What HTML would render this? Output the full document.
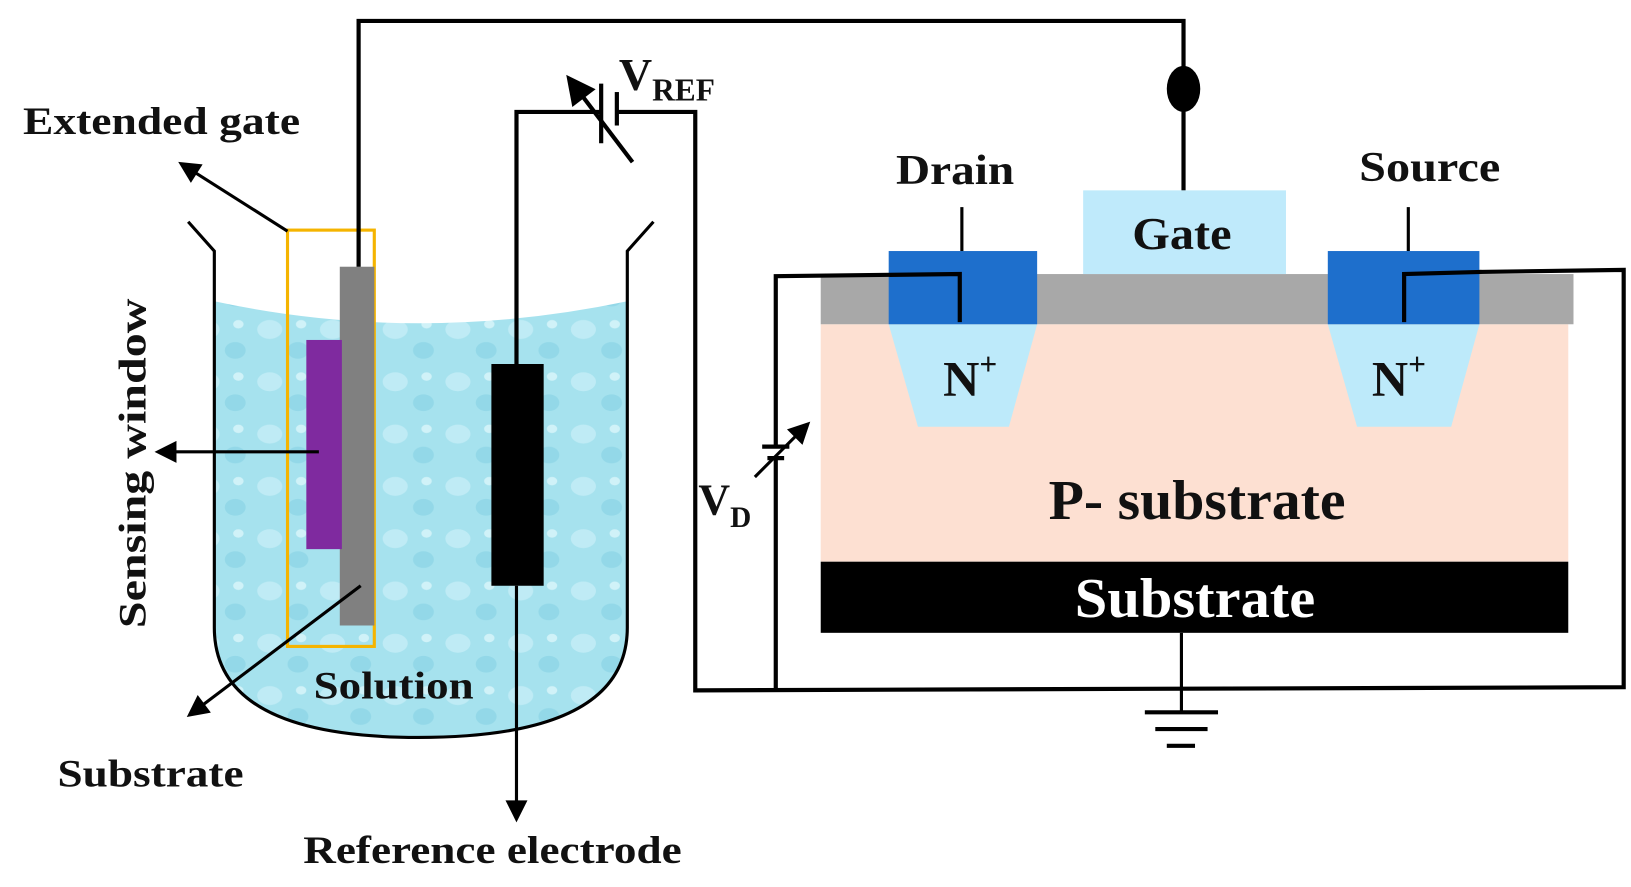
<!DOCTYPE html>
<html><head><style>html,body{margin:0;padding:0;background:#fff}svg{display:block}</style></head>
<body>
<svg width="1631" height="887" viewBox="0 0 1560 848" preserveAspectRatio="none" xmlns="http://www.w3.org/2000/svg" font-family="Liberation Serif, serif" font-weight="bold">
<defs>
<marker id="ah" viewBox="0 0 10 10" refX="8" refY="5" markerWidth="8" markerHeight="7" orient="auto"><path d="M0,0L10,5L0,10z" fill="#000"/></marker>
<pattern id="bub" width="60" height="50" patternUnits="userSpaceOnUse">
<rect width="60" height="50" fill="#a6e2ee"/>
<ellipse cx="18" cy="15" rx="12" ry="9" fill="#c6eef6" opacity=".8"/>
<ellipse cx="45" cy="35" rx="10" ry="8" fill="#8fd6e6" opacity=".8"/>
<ellipse cx="48" cy="10" rx="5" ry="4" fill="#d0f2f8"/>
</pattern>
</defs>
<!-- beaker -->
<path d="M205,288 Q400,330 600,288 L600,600 Q600,705 400,705 Q205,705 205,600 Z" fill="url(#bub)"/>
<path d="M180,212 L205,240 L205,600 Q205,705 400,705 Q600,705 600,600 L600,240 L625,212" fill="none" stroke="#000" stroke-width="3"/>
<rect x="275" y="220" width="83" height="398" fill="none" stroke="#f5b400" stroke-width="3"/>
<rect x="325" y="255" width="33" height="343" fill="#808080"/>
<rect x="293" y="325" width="34" height="200" fill="#7f2a9f"/>
<!-- wires -->
<polyline points="343,255 343,20 1132,20 1132,182" fill="none" stroke="#000" stroke-width="4"/>
<ellipse cx="1132" cy="85" rx="16" ry="22" fill="#000"/>
<polyline points="494,348 494,107 575,107" fill="none" stroke="#000" stroke-width="4"/>
<polyline points="590,107 665,107 665,660 1553,657 1553,258 1415,260" fill="none" stroke="#000" stroke-width="4"/>
<line x1="575" y1="80" x2="575" y2="137" stroke="#000" stroke-width="4"/>
<line x1="590" y1="88" x2="590" y2="120" stroke="#000" stroke-width="4"/>
<line x1="605" y1="155" x2="545" y2="76" stroke="#000" stroke-width="4" marker-end="url(#ah)"/>
<rect x="470" y="348" width="50" height="212" fill="#000"/>
<line x1="494" y1="560" x2="494" y2="782" stroke="#000" stroke-width="3" marker-end="url(#ah)"/>
<line x1="305" y1="432" x2="152" y2="432" stroke="#000" stroke-width="3" marker-end="url(#ah)"/>
<line x1="275" y1="221" x2="174" y2="157" stroke="#000" stroke-width="3" marker-end="url(#ah)"/>
<line x1="345" y1="560" x2="182" y2="683" stroke="#000" stroke-width="3" marker-end="url(#ah)"/>
<!-- MOSFET -->
<rect x="785" y="310" width="715" height="227" fill="#fde0d2"/>
<rect x="785" y="262" width="720" height="48" fill="#a8a8a8"/>
<rect x="785" y="537" width="715" height="68" fill="#000"/>
<polygon points="850,310 992,310 965,408 878,408" fill="#bdeafa"/>
<polygon points="1270,310 1415,310 1388,408 1298,408" fill="#bdeafa"/>
<rect x="850" y="240" width="142" height="70" fill="#1e6fcc"/>
<rect x="1270" y="240" width="145" height="70" fill="#1e6fcc"/>
<rect x="1036" y="182" width="194" height="80" fill="#bfeafb"/>
<polyline points="918,308 918,262 742,264 742,660" fill="none" stroke="#000" stroke-width="4"/>
<polyline points="1343,308 1343,262 1417,260" fill="none" stroke="#000" stroke-width="4"/>
<line x1="920" y1="198" x2="920" y2="240" stroke="#000" stroke-width="3"/>
<line x1="1347" y1="198" x2="1347" y2="240" stroke="#000" stroke-width="3"/>
<rect x="736" y="426" width="12" height="13" fill="#fff"/>
<line x1="729" y1="427" x2="755" y2="427" stroke="#000" stroke-width="4"/>
<line x1="734" y1="438" x2="750" y2="438" stroke="#000" stroke-width="4"/>
<line x1="722" y1="456" x2="772" y2="406" stroke="#000" stroke-width="3" marker-end="url(#ah)"/>
<!-- ground -->
<line x1="1130" y1="605" x2="1130" y2="680" stroke="#000" stroke-width="3"/>
<line x1="1095" y1="681" x2="1165" y2="681" stroke="#000" stroke-width="4"/>
<line x1="1105" y1="697" x2="1155" y2="697" stroke="#000" stroke-width="4"/>
<line x1="1116" y1="713" x2="1143" y2="713" stroke="#000" stroke-width="4"/>
<!-- text -->
<g fill="#111" lengthAdjust="spacingAndGlyphs">
<text x="22" y="128" font-size="37" textLength="265" lengthAdjust="spacingAndGlyphs">Extended gate</text>
<text x="0" y="0" font-size="37" text-anchor="middle" textLength="315" lengthAdjust="spacingAndGlyphs" transform="translate(139,443) rotate(-90)">Sensing window</text>
<text x="55" y="752" font-size="37" textLength="178" lengthAdjust="spacingAndGlyphs">Substrate</text>
<text x="300" y="668" font-size="37" textLength="153" lengthAdjust="spacingAndGlyphs">Solution</text>
<text x="290" y="825" font-size="37" textLength="362" lengthAdjust="spacingAndGlyphs">Reference electrode</text>
<text x="592" y="86" font-size="44">V<tspan font-size="30" dy="10">REF</tspan></text>
<text x="668" y="492" font-size="42">V<tspan font-size="28" dy="12">D</tspan></text>
<text x="857" y="176" font-size="40" textLength="113" lengthAdjust="spacingAndGlyphs">Drain</text>
<text x="1300" y="173" font-size="40" textLength="135" lengthAdjust="spacingAndGlyphs">Source</text>
<text x="1083" y="238" font-size="44" textLength="95" lengthAdjust="spacingAndGlyphs">Gate</text>
<text x="928" y="378" font-size="48" text-anchor="middle">N<tspan font-size="30" dy="-20">+</tspan></text>
<text x="1338" y="378" font-size="48" text-anchor="middle">N<tspan font-size="30" dy="-20">+</tspan></text>
<text x="1003" y="496" font-size="54" textLength="284" lengthAdjust="spacingAndGlyphs">P- substrate</text>
<text x="1028" y="590" font-size="54" textLength="230" lengthAdjust="spacingAndGlyphs" fill="#fff">Substrate</text>
</g>
</svg>
</body></html>
